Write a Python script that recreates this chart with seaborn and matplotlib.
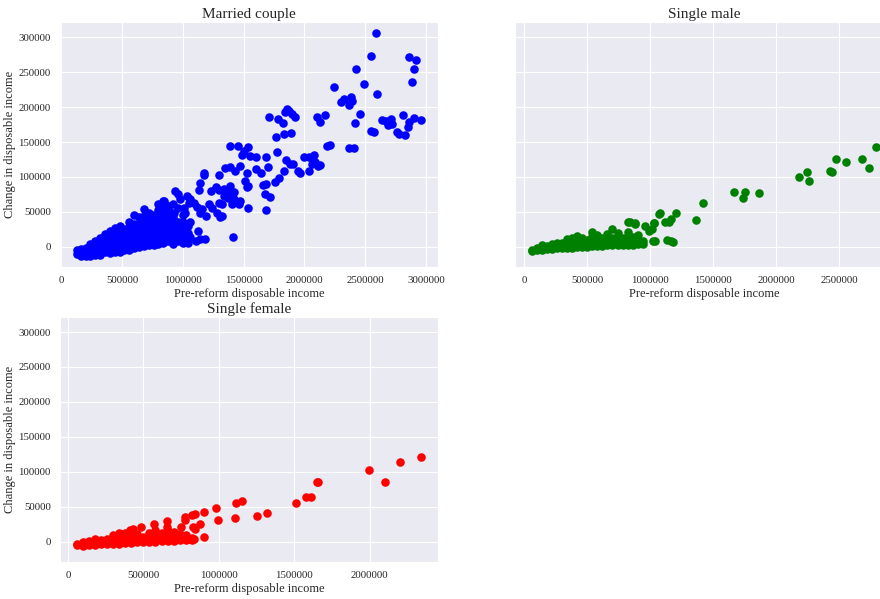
import matplotlib
matplotlib.use("Agg")
import matplotlib.pyplot as plt
import seaborn as sns

# values (income and change in income, currency units)
married_x = [
    # dense cloud
    130000, 130000,
    160000, 160000, 160000,
    200000, 200000, 200000,
    240000, 240000, 240000, 240000,
    280000, 280000, 280000, 280000, 280000,
    320000, 320000, 320000, 320000, 320000,
    360000, 360000, 360000, 360000, 360000,
    400000, 400000, 400000, 400000, 400000, 400000,
    440000, 440000, 440000, 440000, 440000, 440000,
    480000, 480000, 480000, 480000, 480000, 480000,
    520000, 520000, 520000, 520000, 520000,
    560000, 560000, 560000, 560000, 560000, 560000,
    600000, 600000, 600000, 600000, 600000, 600000,
    640000, 640000, 640000, 640000, 640000, 640000,
    680000, 680000, 680000, 680000, 680000, 680000, 680000,
    720000, 720000, 720000, 720000, 720000, 720000,
    760000, 760000, 760000, 760000, 760000, 760000,
    800000, 800000, 800000, 800000, 800000, 800000, 800000,
    840000, 840000, 840000, 840000, 840000, 840000, 840000,
    880000, 880000, 880000, 880000, 880000, 880000,
    920000, 920000, 920000, 920000, 920000, 920000,
    960000, 960000, 960000, 960000, 960000,
    1000000, 1000000, 1000000, 1000000, 1000000,
    1040000, 1040000, 1040000, 1040000,
    1060000, 1060000,
    # upper part of the cloud
    940000, 960000, 980000, 1035000, 1060000, 1050000, 1007000, 1020000,
    1090000, 1117000, 843000, 856000, 815000, 884000, 925000,
    1158000, 1145000, 1190000, 1186000, 1145000, 1110000, 1123000,
    1172000, 1145000, 1172000, 1131000, 1233000, 1270000, 1300000, 1340000,
    1378000, 1420000, 1390000, 1337000, 1370000, 1420000, 1405000,
    1474000, 1460000, 1295000, 1323000, 1213000, 1240000, 1280000, 1310000,
    1320000, 1537000, 1410000, 1301000,
    # x 1.3m - 1.65m
    1386000, 1455000, 1537000, 1502000, 1550000, 1606000, 1488000, 1474000,
    1433000, 1392000, 1350000, 1530000, 1515000, 1537000, 1530000, 1600000,
    1644000,
    # x 1.65m - 2.15m
    1707000, 1784000, 1825000, 1840000, 1860000, 1875000, 1895000, 1920000,
    1891000, 1831000, 1765000, 1779000, 1850000, 1885000, 1910000, 1836000,
    1968000, 1950000, 2000000, 2036000, 2083000, 2060000, 2090000, 2110000,
    2125000, 2037000, 1702000, 1686000, 1660000, 1685000, 1680000, 1716000,
    1686000, 1757000, 1795000,
    # x above 2.1m
    2586000, 2550000, 2863000, 2915000, 2901000, 2427000, 2888000, 2490000,
    2243000, 2600000, 2300000, 2330000, 2380000, 2390000, 2370000, 2103000,
    2174000, 2126000, 2454000, 2413000, 2545000, 2572000, 2640000, 2675000,
    2710000, 2690000, 2720000, 2813000, 2901000, 2962000, 2860000, 2850000,
    2760000, 2780000, 2830000, 2190000, 2210000, 2366000, 2407000,
]
married_y = [
    -5000, -10000,
    -3000, -9000, -13000,
    -1000, -7000, -13000,
    4000, -2000, -8000, -13000,
    9000, 3000, -3000, -9000, -12000,
    12000, 6000, 0, -6000, -11000,
    18000, 11000, 4000, -2000, -8000,
    22000, 15000, 8000, 1000, -5000, -9000,
    27000, 19000, 11000, 4000, -2000, -8000,
    30000, 22000, 14000, 6000, -1000, -7000,
    25000, 17000, 9000, 2000, -4000,
    36000, 28000, 19000, 11000, 4000, -4000,
    45000, 32000, 23000, 14000, 6000, -2000,
    42000, 34000, 25000, 16000, 8000, 0,
    54000, 44000, 35000, 26000, 17000, 9000, 1000,
    48000, 38000, 28000, 19000, 10000, 2000,
    45000, 36000, 27000, 18000, 10000, 3000,
    62000, 52000, 42000, 32000, 22000, 13000, 4000,
    65000, 55000, 45000, 35000, 25000, 15000, 6000,
    58000, 48000, 38000, 28000, 18000, 8000,
    62000, 42000, 32000, 22000, 12000, 4000,
    55000, 36000, 26000, 16000, 8000,
    45000, 35000, 25000, 15000, 6000,
    30000, 20000, 10000, 5000,
    35000, 14000,
    80000, 75000, 68000, 73000, 69000, 63000, 56000, 49000,
    63000, 57000, 66000, 62000, 58000, 51000, 49000,
    54000, 49000, 44000, 10500, 10500, 8000, 22500,
    102500, 92000, 105000, 82000, 80000, 85000, 81000, 83000,
    77500, 78500, 87000, 73000, 70000, 68000, 62000,
    66000, 62000, 63000, 61000, 61000, 56000, 49000, 42000,
    44000, 55000, 13400, 103000,
    144700, 144700, 143000, 137000, 130000, 128000, 131000, 116000,
    109000, 114000, 113000, 106000, 94000, 87000, 85000, 111000,
    105000,
    186000, 183000, 177000, 193000, 197000, 195000, 190000, 186000,
    163000, 162000, 157000, 136000, 124000, 119000, 118000, 108000,
    105000, 109000, 129000, 129000, 131000, 118000, 122000, 116000,
    117000, 109000, 114000, 129000, 88000, 90000, 76000, 72000,
    53000, 93000, 98000,
    305600, 273000, 271600, 266800, 254400, 254400, 236100, 232800,
    228500, 218400, 207000, 212000, 214000, 209000, 203000, 186000,
    189000, 179000, 190000, 177000, 166000, 164000, 181000, 180000,
    183000, 175000, 176000, 188000, 185000, 182000, 178000, 171000,
    164000, 161000, 160000, 143700, 145600, 141000, 141000,
]

male_x = [
    60000, 60000,
    100000, 100000,
    140000, 140000, 140000,
    180000, 180000,
    220000, 220000, 220000,
    260000, 260000, 260000,
    300000, 300000, 300000,
    340000, 340000, 340000, 340000,
    380000, 380000, 380000, 380000,
    420000, 420000, 420000, 420000,
    460000, 460000, 460000, 460000,
    500000, 500000, 500000,
    540000, 540000, 540000, 540000, 540000,
    580000, 580000, 580000, 580000,
    620000, 620000, 620000,
    660000, 660000, 660000, 660000,
    700000, 700000, 700000, 700000,
    740000, 740000, 740000, 740000,
    780000, 780000, 780000,
    820000, 820000, 820000, 820000,
    860000, 860000, 860000,
    900000, 900000, 900000,
    940000, 940000,
    # loose points
    827000, 875000, 838000, 877000, 959000, 986000, 1012000, 1028000,
    1030000, 1036000, 1025000, 1131000, 1165000, 1181000, 1070000, 1078000,
    1117000, 1149000, 1163000, 1202000, 1363000, 1416000, 1664000, 1751000,
    1733000, 1860000, 2182000, 2240000, 2262000, 2425000, 2444000, 2473000,
    2552000, 2679000, 2734000, 2790000,
]
male_y = [
    -6000, -4000,
    -5000, -2000,
    -4000, 0, 2000,
    -3000, 1000,
    -3000, 1000, 4000,
    -2000, 2000, 5000,
    -2000, 2000, 6000,
    -1000, 3000, 7000, 11000,
    -1000, 3000, 7000, 12000,
    0, 4000, 8000, 15000,
    0, 4000, 9000, 13000,
    0, 5000, 10000,
    1000, 5000, 10000, 16000, 21000,
    1000, 6000, 11000, 17000,
    1000, 6000, 12000,
    2000, 7000, 13000, 18000,
    2000, 7000, 12000, 25000,
    2000, 8000, 14000, 20000,
    3000, 8000, 13000,
    3000, 9000, 15000, 21000,
    3000, 8000, 14000,
    4000, 10000, 17000,
    4000, 9000,
    35400, 34500, 36000, 33000, 29600, 22400, 24900, 33500,
    34500, 9000, 8000, 9500, 8000, 7200, 47400, 47900,
    35400, 36000, 39300, 48900, 37800, 63300, 79100, 79100,
    70000, 77600, 100000, 107300, 94300, 109000, 107300, 126000,
    121700, 126000, 113000, 143200,
]

female_x = [
    60000, 60000,
    100000, 100000, 100000,
    140000, 140000, 140000,
    180000, 180000, 180000, 180000,
    220000, 220000, 220000,
    260000, 260000, 260000,
    300000, 300000, 300000, 300000,
    340000, 340000, 340000, 340000,
    380000, 380000, 380000, 380000,
    420000, 420000, 420000, 420000,
    460000, 460000, 460000, 460000,
    500000, 500000, 500000,
    540000, 540000, 540000, 540000,
    580000, 580000, 580000, 580000, 580000,
    620000, 620000, 620000, 620000,
    660000, 660000, 660000, 660000,
    700000, 700000, 700000,
    740000, 740000, 740000,
    780000, 780000, 780000,
    820000, 820000,
    # loose points
    341000, 352000, 414000, 430000, 481000, 569000, 656000, 656000,
    703000, 747000, 776000, 776000, 796000, 836000, 829000, 842000,
    825000, 840000, 873000, 900000, 902000, 980000, 995000, 1108000,
    1113000, 1153000, 1251000, 1317000, 1510000, 1577000, 1610000, 1650000,
    1657000, 1998000, 2104000, 2204000, 2342000,
]
female_y = [
    -5000, -3000,
    -6000, -3000, 0,
    -5000, -2000, 1000,
    -5000, -1000, 2000, 4000,
    -4000, -1000, 3000,
    -4000, 0, 4000,
    -3000, 1000, 5000, 10000,
    -3000, 1000, 5000, 9000,
    -2000, 2000, 6000, 12000,
    -2000, 2000, 6000, 10000,
    -1000, 3000, 7000, 11000,
    -1000, 3000, 7000,
    0, 4000, 8000, 13000,
    0, 4000, 8000, 12000, 17000,
    1000, 5000, 9000, 13000,
    1000, 5000, 10000, 15000,
    1000, 5000, 9000,
    2000, 6000, 11000,
    2000, 6000, 10000,
    3000, 5000,
    12900, 11500, 16300, 17700, 21000, 24900, 29600, 21000,
    14400, 21600, 35400, 30600, 4300, 4300, 21000, 18700,
    37800, 39300, 25900, 6200, 43100, 47500, 31600, 33500,
    54700, 57500, 36000, 40700, 54600, 63300, 63300, 84800,
    84800, 103000, 84800, 114500, 121700,
]

panels = [
    ("Married couple", married_x, married_y, "blue"),
    ("Single male", male_x, male_y, "green"),
    ("Single female", female_x, female_y, "red"),
]

sns.set_style("darkgrid")
plt.rcParams["font.family"] = ["Liberation Serif", "DejaVu Serif"]

fig, axes = plt.subplots(2, 2, figsize=(8.8, 5.99), dpi=100, sharey=True)
fig.subplots_adjust(left=0.068, right=1.015, top=0.963, bottom=0.062,
                    wspace=0.201, hspace=0.204)

for ax, (title, xs, ys, color) in zip(axes.flat, panels):
    sns.scatterplot(x=xs, y=ys, ax=ax, color=color, s=38, linewidth=0)
    ax.set_title(title, fontsize=11, pad=3)
    ax.set_xlabel("Pre-reform disposable income", fontsize=9, labelpad=2)
    ax.set_ylabel("Change in disposable income", fontsize=9, labelpad=2)
    ax.ticklabel_format(style="plain", useOffset=False)
    ax.tick_params(labelsize=7.8, pad=3)

axes[0, 1].set_ylabel("")
axes[1, 1].axis("off")

fig.savefig("out.png", dpi=100)
